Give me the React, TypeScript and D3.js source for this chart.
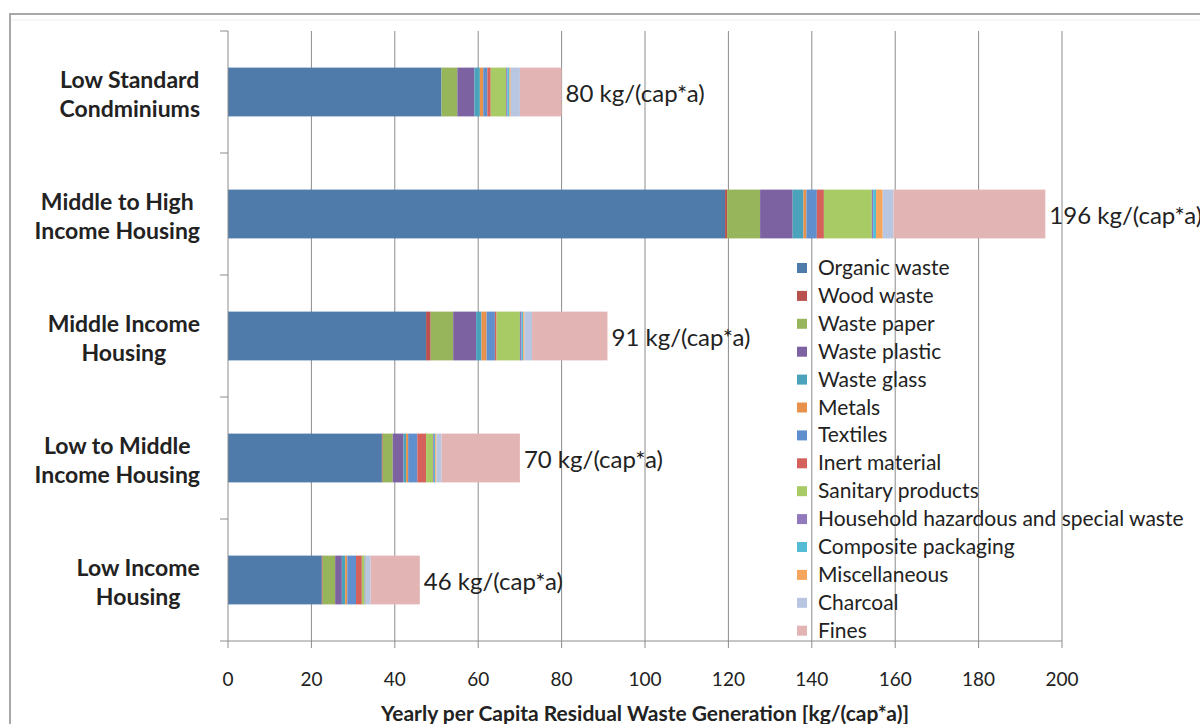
import React from "react";
import * as d3 from "d3";

const categories = [
  "Low Standard Condminiums",
  "Middle to High Income Housing",
  "Middle Income Housing",
  "Low to Middle Income Housing",
  "Low Income Housing",
];
const categoryLines = [
  ["Low Standard", "Condminiums"],
  ["Middle to High", "Income Housing"],
  ["Middle Income", "Housing"],
  ["Low to Middle", "Income Housing"],
  ["Low Income", "Housing"],
];
const totals = [80, 196, 91, 70, 46];

const seriesNames = [
  "Organic waste",
  "Wood waste",
  "Waste paper",
  "Waste plastic",
  "Waste glass",
  "Metals",
  "Textiles",
  "Inert material",
  "Sanitary products",
  "Household hazardous and special waste",
  "Composite packaging",
  "Miscellaneous",
  "Charcoal",
  "Fines",
];
const seriesColors = [
  "#4F7BAB",
  "#B9514E",
  "#97B55A",
  "#7C62A0",
  "#4AA3BA",
  "#E8914B",
  "#5F8FCC",
  "#D4615C",
  "#A9CB66",
  "#9278BD",
  "#55BCD6",
  "#F6A55C",
  "#B8C6E2",
  "#E3B4B4",
];

const organic = [51.2, 119.2, 47.5, 36.9, 22.5];
const wood = [0, 0.5, 1.1, 0.2, 0.2];
const paper = [3.8, 7.9, 5.4, 2.4, 3.0];
const plastic = [4.1, 7.8, 5.5, 2.6, 1.6];
const glass = [1.3, 2.6, 1.3, 0.6, 0.8];
const metals = [0.8, 0.7, 1.2, 0.5, 0.5];
const textiles = [1.0, 2.5, 2.0, 2.2, 2.1];
const inert = [0.8, 1.7, 0.4, 2.1, 1.4];
const sanitary = [3.7, 11.5, 5.6, 1.7, 0.6];
const hazardous = [0.3, 0.3, 0.4, 0.2, 0.1];
const composite = [0.5, 0.7, 0.4, 0.3, 0.2];
const misc = [0.3, 1.6, 0.3, 0.3, 0.1];
const charcoal = [2.2, 2.6, 1.8, 1.2, 1.1];
const fines = [10.0, 36.4, 18.1, 18.8, 11.8];

const seriesValues = [
  organic, wood, paper, plastic, glass, metals, textiles,
  inert, sanitary, hazardous, composite, misc, charcoal, fines,
];

const xTicks = [0, 20, 40, 60, 80, 100, 120, 140, 160, 180, 200];
const xTitle = "Yearly per Capita Residual Waste Generation [kg/(cap*a)]";

const FONT = "Lato, 'Open Sans', sans-serif";

function measure(text: string, font: string): number {
  const c = document.createElement("canvas");
  const ctx = c.getContext("2d");
  if (!ctx) return text.length * 10;
  ctx.font = font;
  return ctx.measureText(text).width;
}

export default function App() {
  const width = 1200;
  const height = 724;
  const left = 228;
  const right = 1062;
  const top = 31;
  const bottom = 641;

  const x = d3.scaleLinear().domain([0, 200]).range([left, right]);
  const y = d3
    .scaleBand<string>()
    .domain(categories)
    .range([top, bottom])
    .paddingInner(0.6)
    .paddingOuter(0.3);

  const rows = categories.map((c, i) => {
    const r: Record<string, any> = { category: c };
    seriesNames.forEach((s, j) => (r[s] = seriesValues[j][i]));
    return r;
  });
  const stacked = d3.stack<any>().keys(seriesNames)(rows);
  const color = d3.scaleOrdinal<string, string>().domain(seriesNames).range(seriesColors);

  const step = y.step();
  const boundaries = d3.range(categories.length + 1).map((k) => top + k * step);

  const labelSize = 23;
  const labelFont = `bold ${labelSize}px ${FONT}`;

  return (
    <div style={{ position: "absolute", left: 0, top: 0 }}>
      <svg width={width} height={height} style={{ display: "block", background: "#fff" }}>
        <rect x={10} y={14} width={1400} height={900} fill="#fff" stroke="#A8A8A8" strokeWidth={2} />
        <line x1={11} x2={1200} y1={20} y2={20} stroke="#EEEEEE" strokeWidth={1} />

        {/* gridlines */}
        {xTicks.slice(1).map((t) => (
          <line key={t} x1={x(t)} x2={x(t)} y1={top} y2={bottom} stroke="#8C8C8C" strokeWidth={1} />
        ))}

        {/* bars */}
        {stacked.map((layer) => (
          <g key={layer.key} fill={color(layer.key)}>
            {layer.map((d, i) => (
              <rect
                key={i}
                x={x(d[0])}
                y={y(categories[i])}
                width={Math.max(0, x(d[1]) - x(d[0]))}
                height={y.bandwidth()}
              />
            ))}
          </g>
        ))}

        {/* axes */}
        <line x1={left} x2={left} y1={top} y2={bottom} stroke="#8C8C8C" strokeWidth={1} />
        {boundaries.map((b, i) => (
          <line key={i} x1={left - 8} x2={left} y1={b} y2={b} stroke="#8C8C8C" strokeWidth={1} />
        ))}
        <line x1={left} x2={right} y1={bottom} y2={bottom} stroke="#8C8C8C" strokeWidth={1} />
        {xTicks.map((t) => (
          <g key={t}>
            <line x1={x(t)} x2={x(t)} y1={bottom} y2={bottom + 7} stroke="#8C8C8C" strokeWidth={1} />
            <text x={x(t)} y={686} textAnchor="middle" fontFamily={FONT} fontSize={19} fill="#222">
              {t}
            </text>
          </g>
        ))}
        <text x={(left + right) / 2 - 0} y={721} textAnchor="middle" fontFamily={FONT} fontSize={21} fontWeight="bold" fill="#222">
          {xTitle}
        </text>

        {/* category labels */}
        {categoryLines.map((lines, i) => {
          const w = Math.max(...lines.map((l) => measure(l, labelFont)));
          const cx = 200 - w / 2;
          const cy = (y(categories[i]) as number) + y.bandwidth() / 2;
          return (
            <text key={i} x={cx} textAnchor="middle" fontFamily={FONT} fontSize={labelSize} fontWeight="bold" fill="#222">
              {lines.map((l, k) => (
                <tspan key={k} x={cx} y={cy - 4 + k * 29}>
                  {l}
                </tspan>
              ))}
            </text>
          );
        })}

        {/* total labels */}
        {totals.map((t, i) => (
          <text
            key={i}
            x={x(t) + 4}
            y={(y(categories[i]) as number) + y.bandwidth() / 2 + 10}
            fontFamily={FONT}
            fontSize={24}
            fill="#222"
          >
            {`${t} kg/(cap*a)`}
          </text>
        ))}

        {/* legend */}
        {seriesNames.map((s, i) => {
          const cy = 268 + i * 27.9;
          return (
            <g key={s}>
              <rect x={797} y={cy - 5} width={10} height={10} fill={color(s)} />
              <text x={818} y={cy + 7} fontFamily={FONT} fontSize={21} fill="#222">
                {s}
              </text>
            </g>
          );
        })}
      </svg>
    </div>
  );
}
